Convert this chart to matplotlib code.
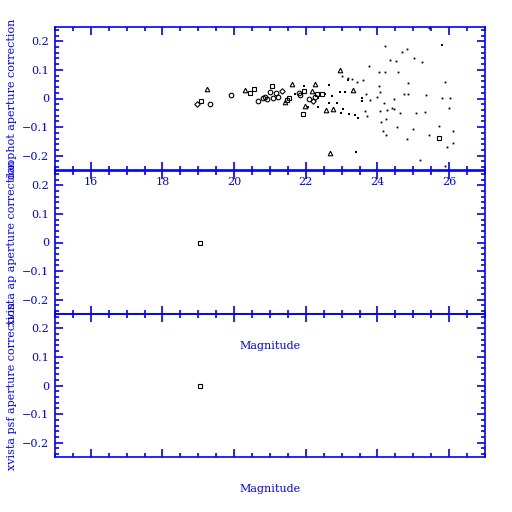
import matplotlib
matplotlib.use('Agg')
import matplotlib.pyplot as plt
from matplotlib.ticker import MultipleLocator, FuncFormatter

# top panel, grouped by the symbol drawn
circ_mag = [19.33, 19.92, 20.67, 20.81, 20.86, 20.92, 21.00, 21.09, 21.16, 21.23, 21.82, 21.85, 22.10, 22.26]
circ_cor = [-0.019, 0.012, -0.007, 0.002, 0.005, -0.002, 0.022, 0.003, 0.019, 0.006, 0.020, 0.012, -0.001, 0.004]

sq_mag = [19.07, 20.44, 20.55, 21.06, 21.48, 21.54, 21.93, 21.96, 22.30, 22.46, 25.71]
sq_cor = [-0.008, 0.019, 0.033, 0.045, -0.006, 0.001, -0.053, 0.027, 0.017, 0.015, -0.139]

tri_mag = [19.25, 20.30, 21.43, 21.62, 21.99, 22.26, 22.18, 22.68, 22.94, 22.55, 22.77, 23.33]
tri_cor = [0.033, 0.030, -0.013, 0.051, -0.027, 0.051, 0.027, -0.192, 0.100, -0.041, -0.036, 0.029]

dia_mag = [18.97, 21.34, 22.21]
dia_cor = [-0.019, 0.026, -0.010]

blk_mag = [21.70, 21.95, 22.05, 22.33, 22.35, 22.54, 22.65, 22.66, 22.74, 22.86, 22.96, 23.03,
           23.08, 22.98, 23.17, 23.21, 23.37, 23.39, 23.45, 23.36, 23.56, 23.57, 25.80]
blk_cor = [0.014, 0.045, -0.029, 0.003, -0.029, 0.017, 0.047, -0.015, 0.008, -0.014, 0.021, -0.036,
           0.022, -0.052, 0.064, -0.053, -0.059, -0.187, -0.069, -0.058, -0.009, 0.003, 0.187]

dot_mag = [23.01, 23.17, 23.28, 23.42, 23.59, 23.68, 23.66, 23.70, 23.77, 23.78,
           24.03, 24.03, 24.06, 23.98, 24.06, 24.11, 24.16, 24.17, 24.22, 24.22,
           24.23, 24.25, 24.26, 24.35, 24.41, 24.46, 24.47, 24.51, 24.54, 24.58,
           24.64, 24.69, 24.74, 24.81, 24.83, 24.85, 24.86, 24.99, 25.03, 25.07,
           25.19, 25.24, 25.33, 25.36, 25.44, 25.45, 25.72, 25.81, 25.89, 25.89,
           25.95, 26.00, 26.03, 26.12, 26.12]
dot_cor = [0.080, 0.073, 0.069, 0.059, 0.066, 0.016, -0.044, -0.062, 0.114, -0.006,
           0.094, 0.045, 0.024, 0.005, -0.045, -0.082, -0.112, -0.015, 0.184, 0.093,
           -0.070, -0.128, -0.039, 0.136, -0.034, -0.037, 0.000, 0.132, -0.098, 0.094,
           -0.050, 0.163, 0.016, 0.174, -0.141, 0.014, 0.054, -0.107, 0.140, -0.050,
           -0.214, 0.126, -0.047, 0.013, -0.126, 0.246, -0.096, 0.003, 0.058, -0.236,
           -0.168, -0.033, 0.003, -0.112, -0.156]

# middle and bottom panels have a single star
ap_mag = [19.05]
ap_cor = [0.0]
psf_mag = [19.05]
psf_cor = [0.0]

ylabels = ['daophot aperture correction', 'xvista ap aperture correction', 'xvista psf aperture correction']

BLUE = '#0000ff'
FONT = 'DejaVu Serif'

fig = plt.figure(figsize=(5.12, 5.12), dpi=100)
fig.patch.set_facecolor('white')

left, width = 55 / 512, 430 / 512
h = 143 / 512
bottoms = [1 - 170 / 512, 1 - 314 / 512, 1 - 457 / 512]
axes = [fig.add_axes([left, b, width, h]) for b in bottoms]


def yfmt(v, pos):
    if abs(v) < 1e-9:
        return '0'
    return ('%.1f' % v).replace('-', '\u2212')


for i, ax in enumerate(axes):
    ax.patch.set_visible(False)
    ax.set_xlim(15, 27)
    ax.set_ylim(-0.25, 0.25)
    for s in ax.spines.values():
        s.set_color(BLUE)
        s.set_linewidth(1.2)
    ax.xaxis.set_major_locator(MultipleLocator(2))
    ax.xaxis.set_minor_locator(MultipleLocator(0.5))
    ax.yaxis.set_major_locator(MultipleLocator(0.1))
    ax.yaxis.set_minor_locator(MultipleLocator(0.02))
    ax.yaxis.set_major_formatter(FuncFormatter(yfmt))
    ax.tick_params(which='both', direction='in', top=True, right=True, colors=BLUE, width=1.2)
    ax.tick_params(which='major', length=5.5)
    ax.tick_params(which='minor', length=3)
    ax.tick_params(axis='y', labelsize=8, pad=4)
    ax.tick_params(axis='x', labelsize=8, pad=5)
    for lab in ax.get_xticklabels() + ax.get_yticklabels():
        lab.set_fontfamily(FONT)
    if i > 0:
        ax.tick_params(axis='x', labelbottom=False)
        ax.set_xlabel('Magnitude', fontsize=8, family=FONT, color=BLUE)
        ax.xaxis.set_label_coords(0.5, -0.19)
    ax.set_ylabel(ylabels[i], fontsize=8, family=FONT, color=BLUE)
    ax.yaxis.set_label_coords(-0.088, 0.5)

top = axes[0]
top.plot(circ_mag, circ_cor, 'o', ms=3.3, mfc='none', mec='black', mew=0.8)
top.plot(sq_mag, sq_cor, 's', ms=3.0, mfc='none', mec='black', mew=0.8)
top.plot(tri_mag, tri_cor, '^', ms=3.3, mfc='none', mec='black', mew=0.8)
top.plot(dia_mag, dia_cor, 'D', ms=2.8, mfc='none', mec='black', mew=0.8)
top.plot(blk_mag, blk_cor, 's', ms=2.0, color='black', mew=0)
top.plot(dot_mag, dot_cor, 's', ms=1.3, color='black', mew=0)

axes[1].plot(ap_mag, ap_cor, 's', ms=3.0, mfc='none', mec='black', mew=0.8)
axes[2].plot(psf_mag, psf_cor, 's', ms=3.0, mfc='none', mec='black', mew=0.8)

fig.savefig('out.png', dpi=100)
